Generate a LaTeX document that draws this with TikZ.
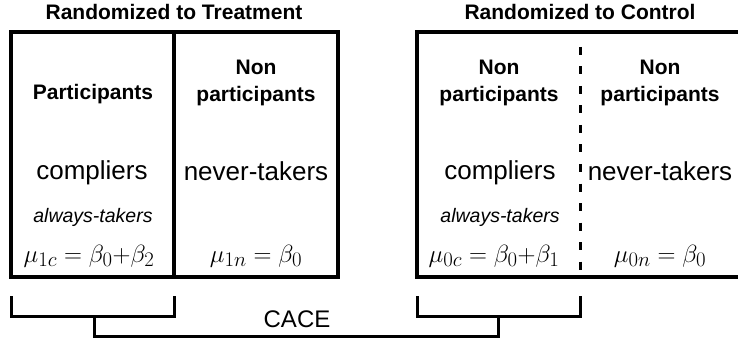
\documentclass[tikz,border=0pt]{standalone}
\usepackage{fontspec}
\setmainfont{Liberation Sans}
\begin{document}
\begin{tikzpicture}[x=1pt,y=-1pt,
  txt/.style={anchor=base, inner sep=0pt},
  head/.style={txt, font=\fontsize{21}{25}\selectfont\bfseries},
  big/.style={txt, font=\fontsize{26}{28}\selectfont},
  ital/.style={txt, font=\fontsize{19.5}{22}\selectfont\itshape},
  mth/.style={txt, font=\fontsize{28}{30}\selectfont},
  frame/.style={line width=3.5pt},
  brk/.style={line width=3pt}]
\useasboundingbox (0,0) rectangle (738,339);
% boxes
\coordinate (tl) at (11,32); \coordinate (tr) at (338,277);
\coordinate (td1) at (174,32); \coordinate (td2) at (174,277);
\coordinate (cl) at (417,32); \coordinate (cr) at (760,277);
\coordinate (cd1) at (580,47); \coordinate (cd2) at (580,277);
\draw[frame] (tl) rectangle (tr);
\draw[line width=4pt] (td1) -- (td2);
\draw[frame] (cl) rectangle (cr);
\draw[line width=3pt, dash pattern=on 8pt off 11.5pt] (cd1) -- (cd2);
% headings
\node[head] (ht) at (174,20) {Randomized to Treatment};
\node[head] (hc) at (580,20) {Randomized to Control};
\node[head] (p1) at (93,100) {Participants};
\node[head] (p2a) at (256,75) {Non};
\node[head] (p2b) at (256,102) {participants};
\node[head] (p3a) at (499,75) {Non};
\node[head] (p3b) at (499,102) {participants};
\node[head] (p4a) at (660,75) {Non};
\node[head] (p4b) at (660,102) {participants};
% groups
\node[big] (c1) at (92,179) {compliers};
\node[big] (n1) at (256,180) {never-takers};
\node[big] (c2) at (500,179) {compliers};
\node[big] (n2) at (660,180) {never-takers};
\node[ital] (a1) at (93,222) {always-takers};
\node[ital] (a2) at (500,222) {always-takers};
% means
\node[mth] (m1) at (89,262) {$\mu_{1c}=\beta_0{+}\beta_2$};
\node[mth] (m2) at (256,262) {$\mu_{1n}=\beta_0$};
\node[mth] (m3) at (494,262) {$\mu_{0c}=\beta_0{+}\beta_1$};
\node[mth] (m4) at (660,262) {$\mu_{0n}=\beta_0$};
% brackets
\coordinate (b1a) at (11,296); \coordinate (b1b) at (174,296);
\coordinate (b2a) at (417,296); \coordinate (b2b) at (580,296);
\coordinate (s1) at (94,316); \coordinate (s2) at (498,316);
\draw[brk] (b1a) |- (b1b |- s1) -- (b1b);
\draw[brk] (b2a) |- (b2b |- s2) -- (b2b);
\draw[brk] (s1) -- ++(0,20) -| (s2);
\node[txt, font=\fontsize{24}{26}\selectfont] (cace) at (297,327) {CACE};
\end{tikzpicture}
\end{document}
